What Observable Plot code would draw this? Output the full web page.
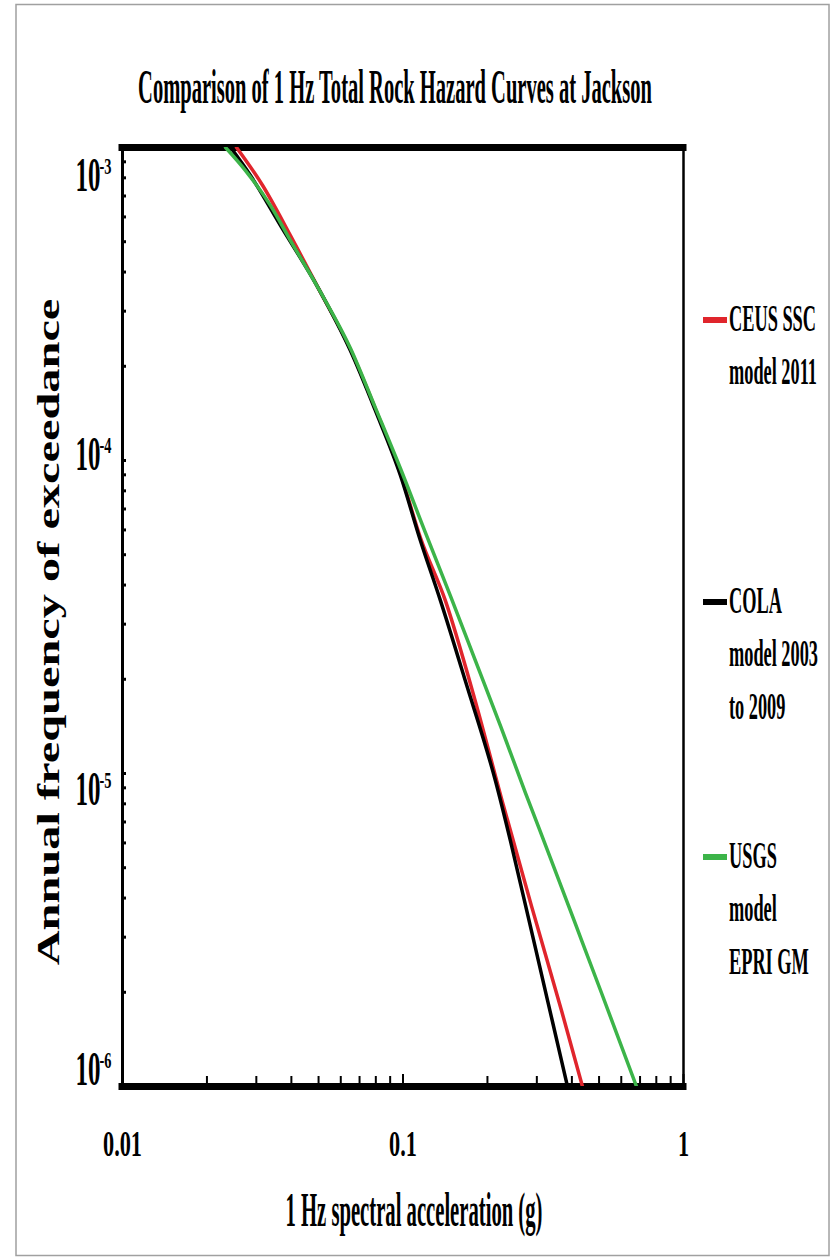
<!DOCTYPE html>
<html><head><meta charset="utf-8">
<script src="https://cdn.jsdelivr.net/npm/d3@7"></script>
<script src="https://cdn.jsdelivr.net/npm/@observablehq/plot@0.6"></script>
<style>body{margin:0;background:#fff}#chart{position:relative;width:831px;height:1259px}</style>
</head><body><div id="chart"></div>
<script>
// ---- data ----
const seriesNames = ["CEUS SSC model 2011", "COLA model 2003 to 2009", "USGS model EPRI GM"];
const ceusAccel = [0.0255, 0.0316, 0.0397, 0.0500, 0.0650, 0.0798, 0.0980, 0.1154, 0.1417, 0.1798, 0.2263, 0.2872, 0.3673, 0.4364];
const ceusFreq  = [1.0e-3, 7.56e-4, 5.23e-4, 3.54e-4, 2.26e-4, 1.46e-4, 9.07e-5, 5.66e-5, 3.56e-5, 1.74e-5, 8.10e-6, 3.77e-6, 1.75e-6, 1.0e-6];
const colaAccel = [0.0243, 0.0286, 0.0366, 0.0500, 0.0650, 0.0798, 0.0980, 0.1154, 0.1361, 0.1670, 0.2137, 0.2417, 0.2712, 0.3042, 0.3412, 0.3859];
const colaFreq  = [1.0e-3, 8.14e-4, 5.63e-4, 3.54e-4, 2.24e-4, 1.44e-4, 8.94e-5, 5.54e-5, 3.56e-5, 1.97e-5, 9.46e-6, 6.08e-6, 3.91e-6, 2.51e-6, 1.61e-6, 1.0e-6];
const usgsAccel = [0.0233, 0.02745, 0.03371, 0.03972, 0.0500, 0.0650, 0.0798, 0.0980, 0.1203, 0.1477, 0.1813, 0.2226, 0.2734, 0.3357, 0.4121, 0.5059, 0.680];
const usgsFreq  = [1.0e-3, 8.44e-4, 6.52e-4, 5.04e-4, 3.54e-4, 2.28e-4, 1.47e-4, 9.41e-5, 5.87e-5, 3.69e-5, 2.29e-5, 1.42e-5, 8.66e-6, 5.36e-6, 3.30e-6, 2.03e-6, 1.0e-6];

const xMajor = [0.01, 0.1, 1];
const xTickLabels = ["0.01", "0.1", "1"];
const yMajor = [1e-3, 1e-4, 1e-5, 1e-6];
const yExpLabels = ["-3", "-4", "-5", "-6"];
const legendLines = [["CEUS SSC", "model 2011"], ["COLA", "model 2003", "to 2009"], ["USGS", "model", "EPRI GM"]];
const titleText = "Comparison of 1 Hz Total Rock Hazard Curves at Jackson";
const xLabelText = "1 Hz spectral acceleration (g)";
const yLabelText = "Annual frequency of exceedance";
const colors = ["#e0252c", "#000000", "#3cb449"];

// ---- derived ----
const xMinor = [];
for (const d of [0.01, 0.1]) for (let k = 2; k < 10; k++) xMinor.push(+(k * d).toFixed(3));
const yMinor = [];
for (const d of [1e-6, 1e-5, 1e-4]) for (let k = 2; k < 10; k++) yMinor.push(k * d);
const toRows = (xs, ys, s) => xs.map((x, i) => ({accel: x, freq: ys[i], series: s}));
const rows = [
  toRows(ceusAccel, ceusFreq, seriesNames[0]),
  toRows(colaAccel, colaFreq, seriesNames[1]),
  toRows(usgsAccel, usgsFreq, seriesNames[2])
];

// style constants (label offsets as in the reference)
const yLabelDy = [28, -6, 16, -17];
const FONT = "'Liberation Serif', 'Times New Roman', serif";

const plot = Plot.plot({
  width: 831, height: 1259,
  marginLeft: 122, marginRight: 148, marginTop: 147, marginBottom: 173,
  style: {fontFamily: FONT, background: "transparent", color: "#000"},
  x: {type: "log", domain: [0.01, 1]},
  y: {type: "log", domain: [1e-6, 1e-3]},
  marks: [
    Plot.ruleX([0.01], {strokeWidth: 3}),
    Plot.ruleX([1], {strokeWidth: 2.5}),
    Plot.axisY({ticks: [...yMajor, ...yMinor], tickSize: -4, strokeWidth: 3, tickFormat: () => "", label: null}),
    Plot.axisX({ticks: xMinor, tickSize: -10, strokeWidth: 2, tickFormat: () => "", label: null}),
    Plot.axisX({ticks: xMajor, tickSize: -12, strokeWidth: 2, tickFormat: () => "", label: null}),
    Plot.axisX({ticks: xMajor, tickSize: 0, tickPadding: 44, tickFormat: d => xTickLabels[xMajor.indexOf(d)], fontSize: 36, fontWeight: "bold", label: null}),
    Plot.ruleY([1e-3], {strokeWidth: 7, strokeLinecap: "square"}),
    Plot.ruleY([1e-6], {strokeWidth: 7, strokeLinecap: "square"}),
    ...yMajor.flatMap((v, i) => [
      Plot.text([v], {y: d => d, frameAnchor: "left", text: () => "10", textAnchor: "end", dx: -22, dy: yLabelDy[i], fontSize: 48, fontWeight: "bold"}),
      Plot.text([v], {y: d => d, frameAnchor: "left", text: () => yExpLabels[i], textAnchor: "start", dx: -23, dy: yLabelDy[i] - 9, fontSize: 24, fontWeight: "bold"})
    ]),
    ...rows.map((r, i) => Plot.line(r, {x: "accel", y: "freq", stroke: colors[i], strokeWidth: 3.5, curve: "monotone-x", clip: true}))
  ]
});

document.getElementById("chart").append(plot);

function squeeze(nodes, s) {
  nodes.forEach(el => {
    let t = el.getAttribute("transform") || "";
    const xa = el.getAttribute("x");
    if (xa !== null && !isNaN(+xa)) { t += ` translate(${+xa},0)`; el.removeAttribute("x"); }
    el.setAttribute("transform", `${t} scale(${s},1)`);
  });
}
const allText = Array.from(plot.querySelectorAll("text"));
squeeze(allText.filter(t => xTickLabels.includes(t.textContent)), 0.62);
const yb = allText.filter(t => t.textContent === "10");
if (yb.length) squeeze(yb, 25 / yb[0].getComputedTextLength());
squeeze(allText.filter(t => yExpLabels.includes(t.textContent)), 0.6);

// ---- overlay: title, axis labels, legend, page border ----
const g = d3.select(plot).append("g").attr("font-family", FONT).attr("fill", "#000");
g.append("rect").attr("x", 16).attr("y", 4.5).attr("width", 813).attr("height", 1251)
  .attr("fill", "none").attr("stroke", "#a0a0a0").attr("stroke-width", 1.5);

function addText(str, {x, y, size, anchor = "start", width = null, scale = 1}) {
  const t = g.append("text").attr("font-size", size).attr("font-weight", "bold")
    .attr("text-anchor", anchor).text(str);
  const len = t.node().getComputedTextLength();
  const s = width ? width / len : scale;
  t.attr("transform", `translate(${x},${y}) scale(${s},1)`);
  return s;
}
addText(titleText, {x: 395, y: 103, size: 48, anchor: "middle", width: 514});
addText(xLabelText, {x: 414, y: 1226, size: 48, anchor: "middle", width: 257});

// rotated y label (glyphs squeezed across the text direction)
const yl = g.append("text").attr("font-size", 48).attr("font-weight", "bold")
  .attr("text-anchor", "middle").text(yLabelText);
const ylLen = yl.node().getComputedTextLength();
yl.attr("transform", `translate(59,632) rotate(-90) scale(${667 / ylLen},0.66)`);

// legend
const legendY = [320, 602, 857];
const LF = 38;
let ls = null;
legendLines.forEach((lines, i) => {
  g.append("line").attr("x1", 703).attr("x2", 727).attr("y1", legendY[i]).attr("y2", legendY[i])
    .attr("stroke", colors[i]).attr("stroke-width", 6);
  lines.forEach((ln, j) => {
    const y = legendY[i] + 0.28 * LF + j * 53;
    if (ls === null) ls = addText(ln, {x: 729, y, size: LF, width: 87});
    else addText(ln, {x: 729, y, size: LF, scale: ls});
  });
});
</script>
</body></html>
